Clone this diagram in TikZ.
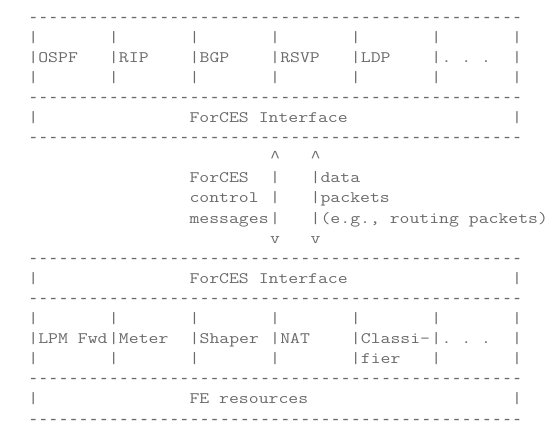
\documentclass[tikz,border=0pt]{standalone}
\usepackage{fontspec}
\setmonofont{Latin Modern Mono}[FakeStretch=1.2]
\newfontfamily\rulefont{Liberation Mono}
\usepackage{tikz}
\definecolor{AsciiGray}{HTML}{6A6A6A}

\tikzset{
  ascii/.style={font=\ttfamily\fontsize{12}{14}\selectfont, text=AsciiGray,
    inner sep=0pt, anchor=base west},
  asciirule/.style={ascii, font=\rulefont\fontsize{12.6}{14}\selectfont},
}

\begin{document}
\begin{tikzpicture}[x=7.56pt, y=-15.075pt]
    % one unit = one character cell (column, row)
    \useasboundingbox (-2.778,-1.095) rectangle (52.282,20.597);

    % Dashed rules
    \foreach \r in {0,4,6,12,14,18,20}
        \node[asciirule] (rule-\r) at (0,\r) {-------------------------------------------------};

    % Cell walls of the two module rows
    \foreach \r in {1,2,3,15,16,17}
        \foreach \c in {0,8,...,48}
            \node[ascii] (wall-\r-\c) at (\c,\r) {|};

    % Side walls of the single-cell rows
    \foreach \r in {5,13,19} {
        \node[ascii] (lwall-\r) at (0,\r) {|};
        \node[ascii] (rwall-\r) at (48,\r) {|};
    }

    % Control element protocols
    \node[ascii] (ospf) at (1,2) {OSPF};
    \node[ascii] (rip)  at (9,2) {RIP};
    \node[ascii] (bgp)  at (17,2) {BGP};
    \node[ascii] (rsvp) at (25,2) {RSVP};
    \node[ascii] (ldp)  at (33,2) {LDP};
    \node[ascii] (cedots) at (41,2) {.\ .\ .};

    % Interfaces
    \node[ascii] (ceif) at (16,5) {ForCES Interface};
    \node[ascii] (feif) at (16,13) {ForCES Interface};

    % Messages between the two interfaces
    \node[asciirule] (ctrlup) at (24,7) {\textasciicircum};
    \node[asciirule] (dataup) at (28,7) {\textasciicircum};
    \node[ascii] (ctrl1)    at (16,8) {ForCES};
    \node[ascii] (ctrl2)    at (16,9) {control};
    \node[ascii] (ctrl3)    at (16,10) {messages};
    \node[ascii] (data1)    at (29,8) {data};
    \node[ascii] (data2)    at (29,9) {packets};
    \node[ascii] (data3)    at (29,10) {(e.g., routing packets)};
    \foreach \r in {8,9,10} {
        \node[ascii] (ctrlbar-\r) at (24,\r) {|};
        \node[ascii] (databar-\r) at (28,\r) {|};
    }
    \node[ascii] (ctrldown) at (24,11) {v};
    \node[ascii] (datadown) at (28,11) {v};

    % Forwarding element blocks
    \node[ascii] (lpm)    at (1,16) {LPM Fwd};
    \node[ascii] (meter)  at (9,16) {Meter};
    \node[ascii] (shaper) at (17,16) {Shaper};
    \node[ascii] (nat)    at (25,16) {NAT};
    \node[ascii] (classi) at (33,16) {Classi-};
    \node[ascii] (fier)   at (33,17) {fier};
    \node[ascii] (fedots) at (41,16) {.\ .\ .};

    % Resources
    \node[ascii] (feres) at (16,19) {FE resources};
\end{tikzpicture}
\end{document}
